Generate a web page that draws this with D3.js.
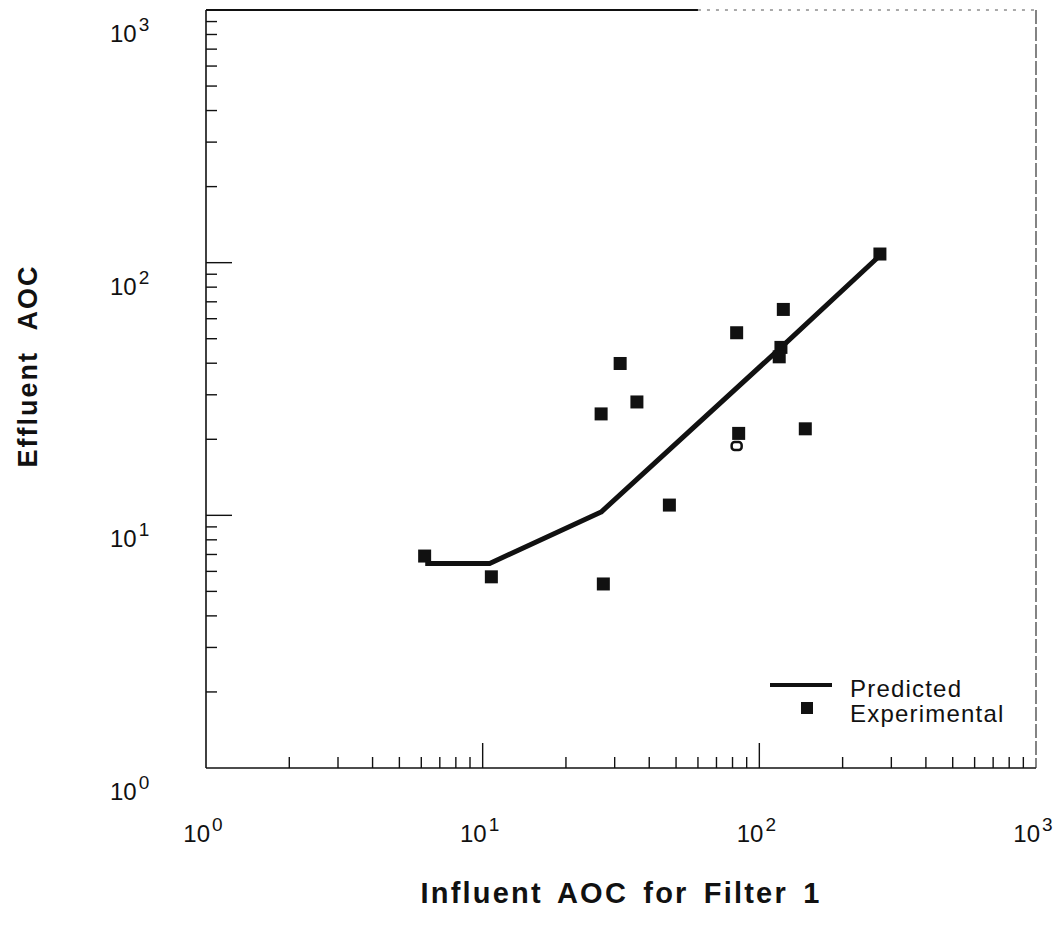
<!DOCTYPE html>
<html>
<head>
<meta charset="utf-8">
<script src="https://cdn.jsdelivr.net/npm/d3@7"></script>
<style>
  html, body { margin: 0; padding: 0; background: #fff; }
  svg { display: block; }
  text { font-family: "Liberation Sans", Arial, Helvetica, sans-serif; fill: #111; }
</style>
</head>
<body>
<svg id="chart" width="1056" height="933"></svg>
<script>
// ---- Data ----
const predictedX = [6.2, 10.6, 26.8, 118, 271];
const predictedY = [6.45, 6.45, 10.3, 45.5, 106];

const experimentalX = [6.17, 10.75, 27.3, 26.8, 31.4, 36.1, 47.3, 82.8, 84.2, 122.1, 119.7, 118, 146.6, 272.8];
const experimentalY = [6.9, 5.71, 5.35, 25.2, 39.9, 28.1, 10.98, 52.8, 21.1, 65.3, 46.2, 42.4, 22.0, 108.2];

// a partially printed (hollow) experimental marker
const hollowX = [82.8];
const hollowY = [18.8];

const tickExponents = [0, 1, 2, 3];
const xTitle = "Influent AOC for Filter 1";
const yTitle = "Effluent AOC";
const legendLabels = ["Predicted", "Experimental"];

// ---- Layout ----
const svg = d3.select("#chart");
const x = d3.scaleLog().domain([1, 1000]).range([206, 1036]);
const y = d3.scaleLog().domain([1, 1000]).range([768, 10]);

const ink = "#111";

const minorVals = [];
for (let d = 0; d < 3; d++) for (let k = 2; k <= 9; k++) minorVals.push(k * Math.pow(10, d));
const majorVals = [1, 10, 100, 1000];

// frame
svg.append("line").attr("x1", x(1)).attr("x2", x(1)).attr("y1", y(1000)).attr("y2", y(1))
  .attr("stroke", ink).attr("stroke-width", 1.6);
svg.append("line").attr("x1", x(1)).attr("x2", x(1000)).attr("y1", y(1)).attr("y2", y(1))
  .attr("stroke", ink).attr("stroke-width", 1.6);
svg.append("line").attr("x1", x(1)).attr("x2", x(60)).attr("y1", y(1000)).attr("y2", y(1000))
  .attr("stroke", ink).attr("stroke-width", 1.8);
svg.append("line").attr("x1", x(60)).attr("x2", x(1000)).attr("y1", y(1000)).attr("y2", y(1000))
  .attr("stroke", "#555").attr("stroke-width", 1).attr("stroke-dasharray", "3,6");
svg.append("line").attr("x1", x(1000)).attr("x2", x(1000)).attr("y1", y(1000)).attr("y2", y(1))
  .attr("stroke", "#333").attr("stroke-width", 1.2).attr("stroke-dasharray", "14,3");

// x ticks (inward)
svg.append("g").selectAll("line").data(minorVals).join("line")
  .attr("x1", d => x(d)).attr("x2", d => x(d))
  .attr("y1", y(1)).attr("y2", y(1) - 11)
  .attr("stroke", ink).attr("stroke-width", 1.4);
svg.append("g").selectAll("line").data(majorVals.slice(1, 3)).join("line")
  .attr("x1", d => x(d)).attr("x2", d => x(d))
  .attr("y1", y(1)).attr("y2", y(1) - 25)
  .attr("stroke", ink).attr("stroke-width", 1.4);

// y ticks (inward)
svg.append("g").selectAll("line").data(minorVals).join("line")
  .attr("x1", x(1)).attr("x2", x(1) + 11)
  .attr("y1", d => y(d)).attr("y2", d => y(d))
  .attr("stroke", ink).attr("stroke-width", 1.4);
svg.append("g").selectAll("line").data(majorVals.slice(1, 3)).join("line")
  .attr("x1", x(1)).attr("x2", x(1) + 26)
  .attr("y1", d => y(d)).attr("y2", d => y(d))
  .attr("stroke", ink).attr("stroke-width", 1.4);

// tick labels 10^n
function powLabel(g, e) {
  g.append("tspan").text("10").attr("font-size", 24);
  g.append("tspan").text(String(e)).attr("font-size", 19).attr("dy", -11).attr("dx", 2);
}
svg.append("g").selectAll("text").data(tickExponents).join("text")
  .attr("x", d => x(Math.pow(10, d)) - 3)
  .attr("y", y(1) + 74)
  .attr("text-anchor", "middle")
  .each(function(d) { powLabel(d3.select(this), d); });

svg.append("g").selectAll("text").data(tickExponents).join("text")
  .attr("x", 110)
  .attr("y", d => y(Math.pow(10, d)) + 32)
  .attr("text-anchor", "start")
  .each(function(d) { powLabel(d3.select(this), d); });

// axis titles
svg.append("text")
  .attr("x", 621).attr("y", 903)
  .attr("text-anchor", "middle")
  .attr("font-weight", "bold").attr("font-size", 29)
  .attr("letter-spacing", 2.2).attr("word-spacing", 5)
  .text(xTitle);
svg.append("text")
  .attr("transform", "translate(37,366) rotate(-90)")
  .attr("text-anchor", "middle")
  .attr("font-weight", "bold").attr("font-size", 27)
  .attr("letter-spacing", 2).attr("word-spacing", 12)
  .text(yTitle);

// predicted line
const predicted = predictedX.map((v, i) => [v, predictedY[i]]);
svg.append("path")
  .datum(predicted)
  .attr("d", d3.line().x(d => x(d[0])).y(d => y(d[1])))
  .attr("fill", "none").attr("stroke", ink).attr("stroke-width", 5)
  .attr("stroke-linejoin", "round").attr("stroke-linecap", "butt");

// experimental squares
const sq = 13;
const experimental = experimentalX.map((v, i) => [v, experimentalY[i]]);
svg.append("g").selectAll("rect").data(experimental).join("rect")
  .attr("x", d => x(d[0]) - sq / 2).attr("y", d => y(d[1]) - sq / 2)
  .attr("width", sq).attr("height", sq).attr("fill", ink);

const hollow = hollowX.map((v, i) => [v, hollowY[i]]);
svg.append("g").selectAll("rect").data(hollow).join("rect")
  .attr("x", d => x(d[0]) - 5).attr("y", d => y(d[1]) - 4)
  .attr("width", 10).attr("height", 8)
  .attr("fill", "#fff").attr("stroke", ink).attr("stroke-width", 2.5).attr("rx", 3);

// legend
const lg = svg.append("g");
lg.append("line").attr("x1", 770).attr("x2", 832).attr("y1", 685).attr("y2", 685)
  .attr("stroke", ink).attr("stroke-width", 4);
lg.append("rect").attr("x", 801).attr("y", 702).attr("width", 12).attr("height", 12).attr("fill", ink);
lg.append("text").attr("x", 850).attr("y", 697).attr("font-size", 24).attr("letter-spacing", 1.2).text(legendLabels[0]);
lg.append("text").attr("x", 850).attr("y", 722).attr("font-size", 24).attr("letter-spacing", 1.2).text(legendLabels[1]);
</script>
</body>
</html>
